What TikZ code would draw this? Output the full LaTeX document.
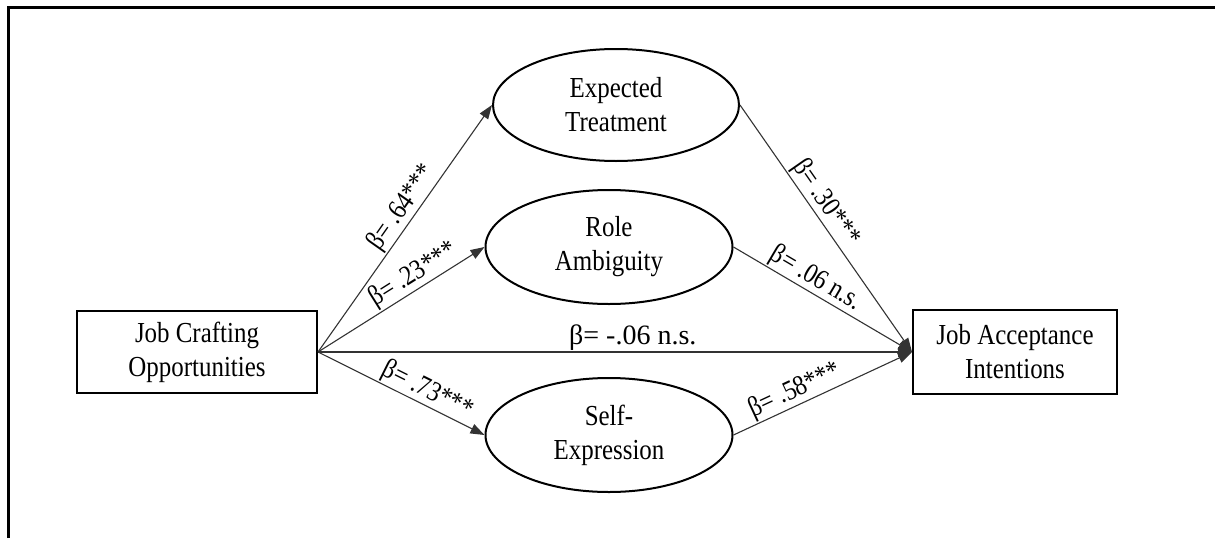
\documentclass[tikz,border=0pt]{standalone}
\usepackage{fontspec}
\setmainfont{Liberation Serif}[FakeStretch=0.86]
\newfontfamily\wideserif{Liberation Serif}
\usetikzlibrary{shapes.geometric,arrows.meta}
\begin{document}
\begin{tikzpicture}[x=1pt,y=-1pt,
  font=\fontsize{29}{34}\selectfont,
  boxnode/.style={draw,line width=2pt,minimum width=240pt,minimum height=82pt,align=center,inner sep=0pt},
  latent/.style={draw,ellipse,line width=2pt,minimum width=246pt,minimum height=112pt,align=center,inner sep=0pt},
  path/.style={line width=1.1pt,draw=black!80,-{Triangle[length=14pt,width=10pt]}},
  lbl/.style={sloped,above,inner sep=1pt,font=\fontsize{28}{30}\selectfont}]
\useasboundingbox (0,0) rectangle (1215,538);
\draw[line width=3pt] (8,538) -- (8,7) -- (1215,7);
\node[boxnode] (jco) at (197,352) {Job Crafting\\Opportunities};
\node[boxnode,minimum width=204pt,minimum height=84pt] (jai) at (1015,352) {Job Acceptance\\Intentions};
\node[latent] (et) at (616,105) {Expected\\Treatment};
\node[latent,minimum width=247pt,minimum height=114pt] (ra) at (609,247) {Role\\Ambiguity};
\node[latent,minimum width=247pt,minimum height=114pt] (se) at (609,435) {Self-\\Expression};
\draw[path] (jco.east) -- node[lbl,pos=0.55] {β= .64***} (et.west);
\draw[path] (jco.east) -- node[lbl,pos=0.62] {β= .23***} (ra.west);
\draw[path] (jco.east) -- node[lbl,pos=0.62] {β= .73***} (se.west);
\draw[path] (jco.east) -- node[lbl,pos=0.53,font=\wideserif\fontsize{28}{30}\selectfont] {β= -.06 n.s.} (jai.west);
\draw[path] (et.east) -- node[lbl,pos=0.43] {β= .30***} (jai.west);
\draw[path] (ra.east) -- node[lbl,pos=0.42] {β= .06 n.s.} (jai.west);
\draw[path] (se.east) -- node[lbl,pos=0.38] {β= .58***} (jai.west);
\end{tikzpicture}
\end{document}
